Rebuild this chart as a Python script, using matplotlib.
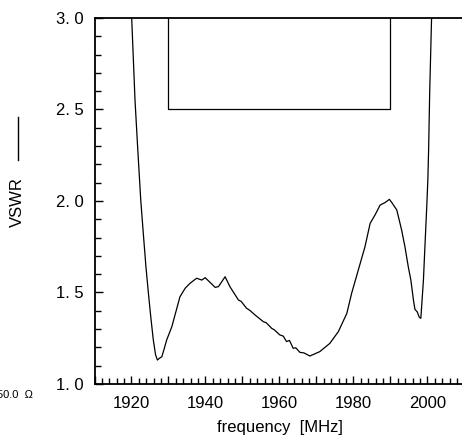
import matplotlib
matplotlib.use("Agg")
import matplotlib.pyplot as plt
from matplotlib.lines import Line2D
from matplotlib.ticker import MultipleLocator, FuncFormatter

# measured VSWR curve (frequency in MHz)
freq = [1919.8, 1920.05, 1920.95, 1921.7, 1922.5, 1923.2, 1923.9, 1924.6, 1925.2,
        1925.9, 1926.5, 1927.0, 1927.5, 1928.2, 1928.8, 1929.5, 1930.9, 1932.0,
        1933.1, 1934.5, 1935.8, 1937.6, 1939.0, 1939.9, 1941.2, 1942.6, 1943.5,
        1944.4, 1945.3, 1946.6, 1948.9, 1949.6, 1951.1, 1952.0, 1953.4, 1955.6,
        1956.4, 1957.9, 1958.6, 1960.1, 1961.0, 1961.9, 1962.7, 1963.7, 1964.4,
        1965.5, 1966.6, 1968.2, 1970.9, 1973.6, 1975.9, 1978.2, 1979.5, 1981.3,
        1983.1, 1984.5, 1985.8, 1987.2, 1988.5, 1989.7, 1990.4, 1991.7, 1993.0,
        1993.9, 1994.8, 1995.5, 1996.2, 1996.6, 1997.2, 1997.8, 1998.2, 1998.9,
        1999.3, 1999.8, 2000.1, 2000.3, 2000.6, 2001.1, 2001.3]
vswr = [3.10, 3.00, 2.55, 2.28, 2.005, 1.82, 1.641, 1.49, 1.368,
        1.24, 1.16, 1.131, 1.14, 1.149, 1.19, 1.24, 1.313, 1.395,
        1.477, 1.523, 1.55, 1.578, 1.568, 1.581, 1.556, 1.528, 1.532,
        1.559, 1.586, 1.532, 1.459, 1.452, 1.414, 1.402, 1.377, 1.341,
        1.335, 1.304, 1.296, 1.268, 1.262, 1.232, 1.238, 1.195, 1.198,
        1.173, 1.170, 1.153, 1.177, 1.222, 1.286, 1.386, 1.496, 1.623,
        1.75, 1.878, 1.923, 1.978, 1.991, 2.009, 1.99, 1.951, 1.842,
        1.75, 1.641, 1.568, 1.459, 1.408, 1.395, 1.364, 1.359, 1.568,
        1.75, 1.969, 2.12, 2.28, 2.60, 3.00, 3.10]

# specification mask
mask_f = [1930, 1930, 1990, 1990]
mask_v = [3.0, 2.5, 2.5, 3.0]

x_ticks = [1920, 1940, 1960, 1980, 2000]
y_ticks = [1.0, 1.5, 2.0, 2.5, 3.0]

plt.rcParams['font.family'] = ['Liberation Sans', 'DejaVu Sans']

W, H = 462, 441
fig = plt.figure(figsize=(W / 100, H / 100), dpi=100)
ax = fig.add_axes([94.5 / W, 1 - 384 / H, 370 / W, 366 / H])

ax.plot(freq, vswr, color='black', lw=0.9)
ax.plot(mask_f, mask_v, color='black', lw=0.9)

ax.set_xlim(1910, 2010)
ax.set_ylim(1.0, 3.0)

ax.xaxis.set_major_locator(MultipleLocator(10))
ax.xaxis.set_minor_locator(MultipleLocator(2))
ax.xaxis.set_major_formatter(FuncFormatter(
    lambda v, p: f"{int(round(v))}" if int(round(v)) in x_ticks else ""))
ax.set_yticks(y_ticks)
ax.yaxis.set_minor_locator(MultipleLocator(0.1))
ax.yaxis.set_major_formatter(FuncFormatter(lambda v, p: f"{v:.1f}".replace(".", ". ")))

ax.tick_params(which='both', direction='in', labelsize=12, width=1.0)
ax.tick_params(which='major', length=6)
ax.tick_params(which='minor', length=4)
ax.tick_params(axis='x', pad=9)
ax.tick_params(axis='y', pad=8)
ax.tick_params(top=False, right=False, which='both')

for side in ['left', 'bottom', 'top']:
    ax.spines[side].set_linewidth(1.3)
ax.spines['right'].set_visible(False)

ax.set_xlabel("frequency  [MHz]", fontsize=12, labelpad=6)

# y label with its line-style sample
fig.text(17 / W, 1 - 202 / H, "VSWR", rotation=90, fontsize=12,
         ha='center', va='center')
fig.add_artist(Line2D([18 / W, 18 / W], [1 - 117 / H, 1 - 160 / H],
                      color='black', lw=1.0))
# reference impedance note, clipped at the left edge as in the original
fig.text(33 / W, 1 - 395 / H, "50.0  Ω", fontsize=8, ha='right', va='center')

fig.savefig("out.png", dpi=100)
